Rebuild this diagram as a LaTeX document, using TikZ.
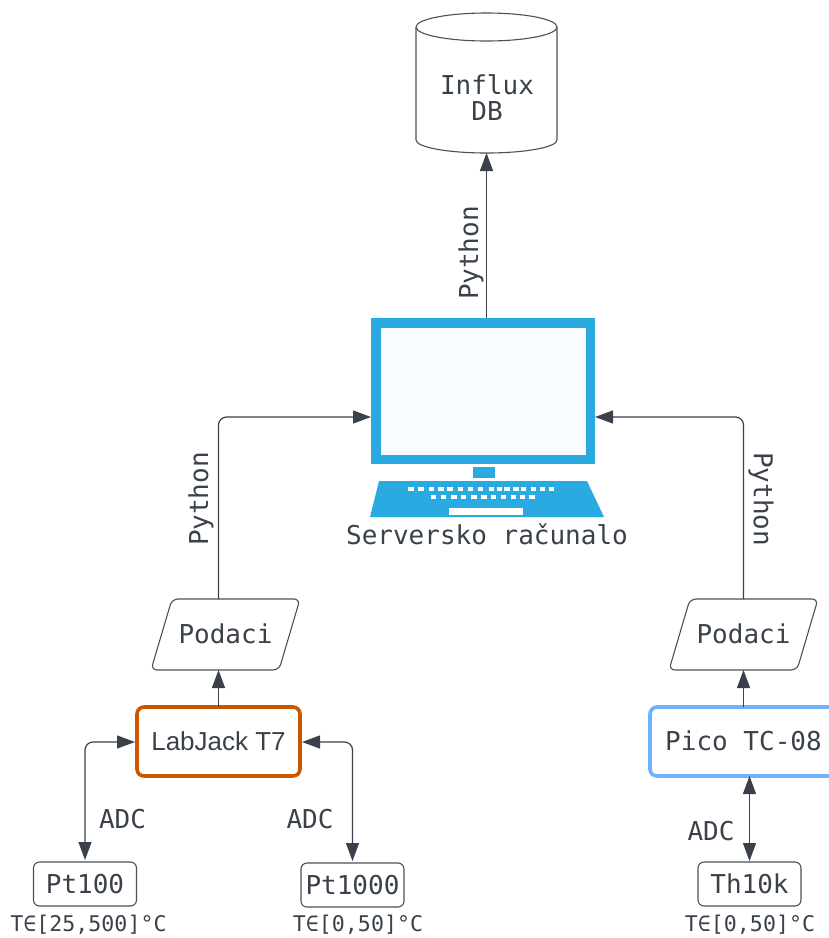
\documentclass[tikz,border=0pt]{standalone}
\usepackage{fontspec}
\setmainfont{Liberation Sans}
\newfontfamily\monof{DejaVu Sans Mono}
\usetikzlibrary{arrows.meta}
\definecolor{ink}{HTML}{3A414A}
\definecolor{edgeg}{HTML}{4A505A}
\definecolor{pcblue}{HTML}{29ABE2}
\definecolor{screenc}{HTML}{F8FCFE}
\definecolor{ljorange}{HTML}{CC5500}
\definecolor{picoblue}{HTML}{6DB1FF}
\tikzset{
  x=1pt,y=-1pt,
  txt/.style={text=ink,font=\monof\fontsize{26}{26}\selectfont,inner sep=0pt,outer sep=0pt,align=center},
  rng/.style={text=ink,font=\monof\fontsize{21.6}{25}\selectfont,inner sep=0pt},
  sensor/.style={draw=edgeg,line width=1.1pt,rounded corners=6pt,minimum width=103pt,minimum height=44pt,inner sep=0pt,outer sep=0pt,txt},
  device/.style={line width=3.6pt,rounded corners=7pt,minimum width=163pt,minimum height=69pt,inner sep=0pt,txt},
  datanode/.style={minimum width=128pt,minimum height=71pt,inner sep=0pt,outer sep=0pt,txt},
  dataline/.style={draw=edgeg,line width=1.1pt,rounded corners=6pt},
  dbline/.style={draw=edgeg,line width=1.1pt},
  conn/.style={draw=ink,line width=1.2pt,rounded corners=8pt,-{Triangle[length=18pt,width=13pt]}},
  conn2/.style={draw=ink,line width=1.2pt,rounded corners=8pt,{Triangle[length=18pt,width=13pt]}-{Triangle[length=18pt,width=13pt]}}
}
\begin{document}
\begin{tikzpicture}
\clip (0,0) rectangle (829,938);
% database
\node[txt,minimum width=141pt,minimum height=140pt] (db) at (486.5,83) {};
\node[txt] (dbt) at (487,98) {Influx\\DB};
\draw[dbline] (db.south west |- 0,27) arc[start angle=180,end angle=-180,x radius=70.5pt,y radius=14pt];
\draw[dbline] (db.south west |- 0,27) -- (db.south west |- 0,140) arc[start angle=180,end angle=360,x radius=70.5pt,y radius=13pt] -- (db.south east |- 0,27);
% server
\node[draw=pcblue,fill=screenc,line width=9.5pt,minimum width=214.5pt,minimum height=136.5pt,inner sep=0pt] (server) at (483,391) {};
\fill[pcblue] (473,467) rectangle (495,478);
\fill[pcblue] (379,481) -- (587,481) -- (604,517) -- (370,517) -- cycle;
\fill[white] (449,508) rectangle (523,515);
\foreach \a/\b in {205/221,235/251,267/282,295/311,322/340,353/369,385/399,414/430,446/462,472/487,493/510,520/537,544/558,572/587,600/614,628/643}
  {\fill[white] ({340+\a/3},486.5) rectangle ({340+\b/3},491);}
\foreach \a/\b in {272/288,303/318,334/351,362/379,394/410,424/441,452/468,482/497,512/528,540/555,567/584}
  {\fill[white] ({340+\a/3},494.5) rectangle ({340+\b/3},499);}
\node[txt] (srvt) at (487,534) {Serversko računalo};
% data
\node[datanode] (podL) at (225.5,634.5) {\raisebox{1.5pt}{Podaci}};
\draw[dataline] ([xshift=10.5pt]podL.north west) -- ([xshift=10.5pt]podL.north east) -- ([xshift=-10.5pt]podL.south east) -- ([xshift=-10.5pt]podL.south west) -- cycle;
\node[datanode] (podR) at (743.5,634.5) {\raisebox{1.5pt}{Podaci}};
\draw[dataline] ([xshift=10.5pt]podR.north west) -- ([xshift=10.5pt]podR.north east) -- ([xshift=-10.5pt]podR.south east) -- ([xshift=-10.5pt]podR.south west) -- cycle;
% devices
\node[device,draw=ljorange,font=\fontsize{26}{26}\selectfont] (lj) at (218.5,741.5) {LabJack T7};
\node[device,draw=picoblue,anchor=west,minimum width=190pt] (pico) at (650,741.5) {};
\node[txt] (picot) at (743.5,741) {Pico TC-08};
% sensors
\node[sensor] (pt1) at (85,884) {Pt100};
\node[sensor] (pt2) at (352.5,885) {Pt1000};
\node[sensor] (th) at (749.5,884) {Th10k};
\node[rng] (r1) at (88.5,925) {T∈[25,500]°C};
\node[rng] (r2) at (358,925) {T∈[0,50]°C};
\node[rng] (r3) at (750,925) {T∈[0,50]°C};
% connectors
\coordinate (xl) at (218.5,0);
\coordinate (xr) at (743.5,0);
\draw[conn] (server.north -| db.south) -- (db.south);
\draw[conn] (podL.north -| xl) -- ++(0,-182) -- ([yshift=-26pt]server.west);
\draw[conn] (podR.north -| xr) -- ++(0,-182) -- ([yshift=-26pt]server.east);
\draw[conn] (lj.north) -- (lj.north |- podL.south);
\draw[conn] (pico.north -| xr) -- (podR.south -| xr);
\draw[conn2] ([xshift=-2pt,yshift=-0.5pt]lj.west) -| ([yshift=2pt]pt1.north);
\draw[conn2] ([xshift=2pt,yshift=-0.5pt]lj.east) -| ([yshift=2pt]pt2.north);
\draw[conn2] (pico.south -| th.north) -- ([yshift=1pt]th.north);
% labels
\node[txt,rotate=90] (p1) at (201,499) {Python};
\node[txt,rotate=90] (p2) at (471,253) {Python};
\node[txt,rotate=-90] (p3) at (761,499) {Python};
\node[txt] (a1) at (122.5,819) {ADC};
\node[txt] (a2) at (310,819) {ADC};
\node[txt] (a3) at (711,831) {ADC};
\end{tikzpicture}
\end{document}
